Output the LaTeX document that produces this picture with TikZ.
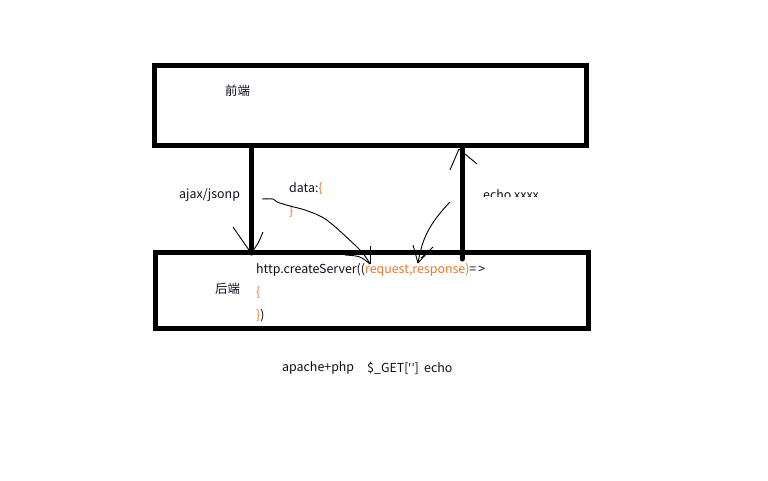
\documentclass[tikz,border=0pt]{standalone}
\usepackage{fontspec}
\setmainfont{Noto Sans CJK SC}
\newfontfamily\latinfont{Noto Sans}
\definecolor{codeorange}{RGB}{240,120,40}
\definecolor{textdark}{RGB}{15,15,30}
\begin{document}
\begin{tikzpicture}[x=1pt,y=-1pt,
  box/.style={draw=black,line width=5pt},
  bar/.style={line width=5pt,line cap=round},
  pen/.style={line width=0.9pt},
  lbl/.style={inner sep=0pt,anchor=west,font=\fontsize{12.4}{14}\selectfont,text=textdark}]
\useasboundingbox (0,0) rectangle (768,480);
\fill[white] (0,0) rectangle (768,480);
% boxes
\draw[box] (154,65) rectangle (586,145);
\draw[box] (155,252) rectangle (588,328);
% bars
\coordinate (lt) at (251,147);
\coordinate (lb) at (251,253);
\coordinate (rt) at (462,147);
\coordinate (rb) at (462,259);
\draw[bar] (lt) -- (lb);
\draw[bar] (rt) -- (rb);
% texts
\node[lbl] (fe) at (225,91) {前端};
\node[lbl] (be) at (215,289) {后端};
\node[lbl] (aj) at (179,195) {ajax/jsonp};
\node[lbl] (dt) at (289,189) {data:\textcolor{codeorange}{\{}};
\node[lbl,text=codeorange] (dc) at (289,212) {\}};
\begin{scope}
\clip (470,180) rectangle (560,196.5);
\node[lbl] (ec) at (483,195) {echo xxxx};
\end{scope}
\node[lbl] (hs) at (256,270) {http.createServer((\textcolor{codeorange}{request,response)}=\,>};
\node[lbl,text=codeorange] (ob) at (256,293) {\{};
\node[lbl] (cb) at (256,316) {\textcolor{codeorange}{\}})};
\node[lbl] (ap1) at (282,368) {apache+php};
\node[lbl] (ap2) at (367,368) {\$\_GET[{\latinfont\char"27\kern0.5pt\char"27}]};
\node[lbl] (ap3) at (424,368) {echo};
% left arrowhead
\coordinate (la1) at (233,227);
\coordinate (la2) at (263,232);
\draw[pen] (la1) -- (lb);
\draw[pen] (la2) .. controls (258,244) .. (lb);
% curved request arrow
\coordinate (c0) at (262,199);
\coordinate (ct) at (370,264);
\draw[pen] plot[smooth,tension=0.6] coordinates {(c0) (273,199) (277,202) (290,206) (305,210) (322,217) (333,225) (342,233) (358,248) (365,256) (ct)};
\coordinate (ch1) at (370,246);
\coordinate (ch2) at (345,255);
\draw[pen] (ch1) -- (ct);
\draw[pen] (ch2) .. controls (360,256) .. (ct);
% response arrow
\coordinate (r0) at (450,202);
\coordinate (rtip) at (418,263);
\draw[pen] (r0) .. controls (428,225) and (422,240) .. (rtip);
\coordinate (rh1) at (413,245);
\coordinate (rh2) at (433,247);
\draw[pen] (rh1) -- (rtip);
\draw[pen] (rh2) .. controls (428,252) .. (rtip);
\coordinate (rh3) at (428,252);
\draw[pen] (rh3) -- (421,258);
% top arrow on right bar
\coordinate (ta) at (459,149);
\coordinate (ta1) at (450,170);
\coordinate (ta2) at (477,164);
\draw[pen] (ta1) -- (ta);
\draw[pen] (ta) -- (ta2);
\end{tikzpicture}
\end{document}
